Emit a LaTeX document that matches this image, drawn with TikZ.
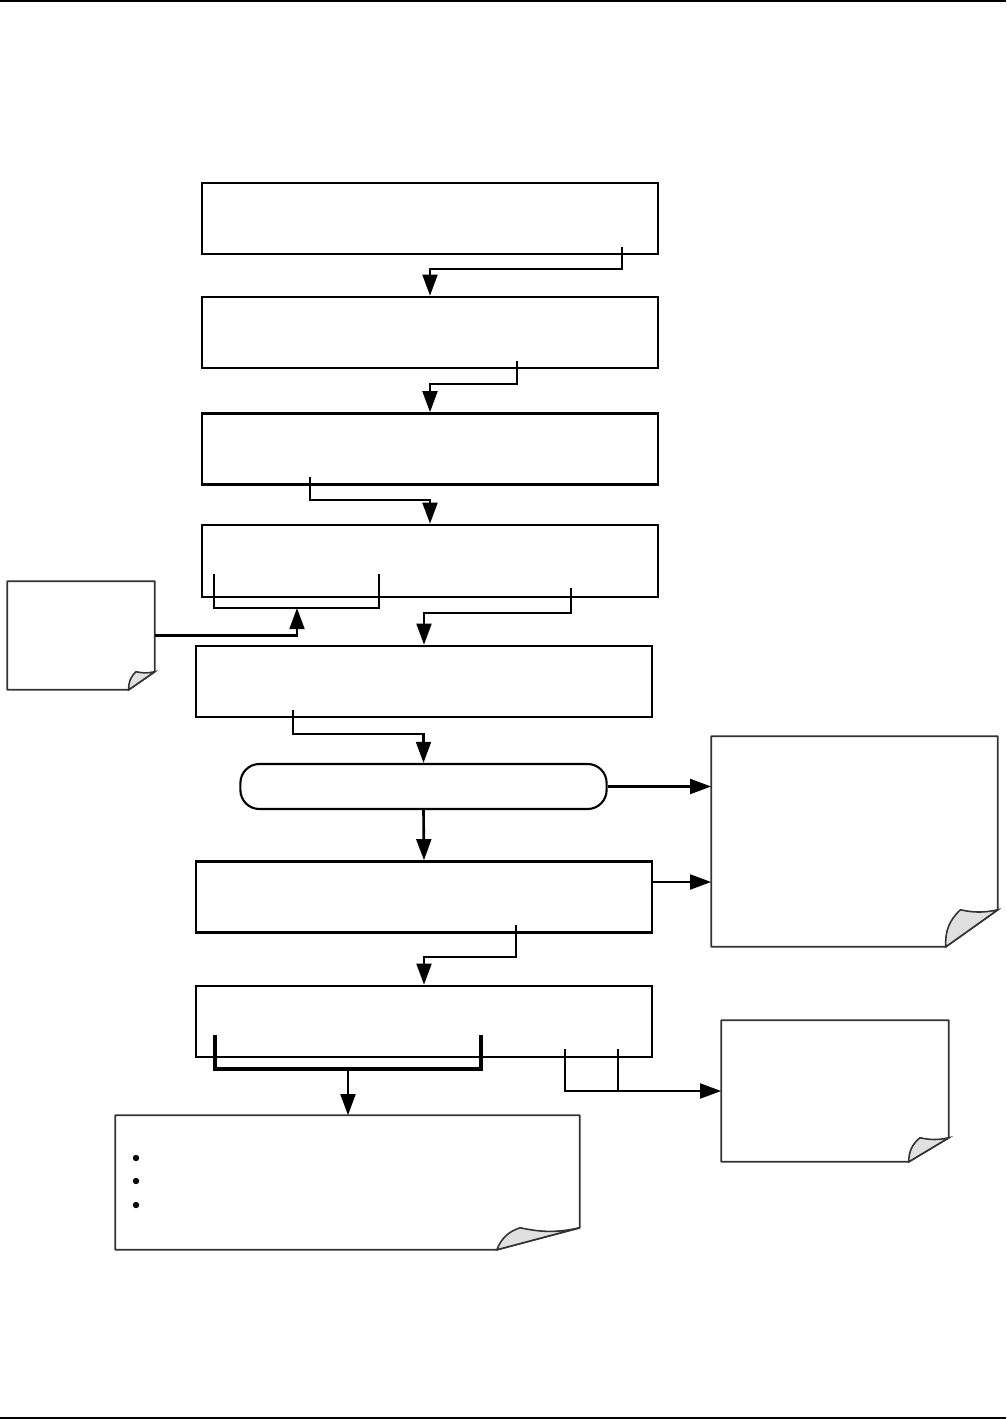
\documentclass[tikz,border=0pt]{standalone}
\usetikzlibrary{arrows.meta,calc}
\begin{document}
\begin{tikzpicture}[x=0.01cm, y=-0.01cm,
        stepbox/.style={draw, line width=0.7pt, inner sep=0pt, minimum width=4.56cm, minimum height=0.71cm},
        endbox/.style={draw, line width=0.6pt, rounded corners=0.19cm, inner sep=0pt, minimum width=3.66cm, minimum height=0.45cm},
        notebox/.style={inner sep=0pt},
        noteline/.style={draw=black!80, line width=0.5pt, line join=round},
        flap/.style={draw=black!80, fill=black!12, line width=0.45pt},
        flow/.style={line width=0.75pt, -{Triangle[length=6pt,width=4.2pt]}},
        tick/.style={line width=0.75pt}]
        \useasboundingbox (0, 0) rectangle (1006, 1419);
        \draw[line width=0.35pt] (0, 1) -- (1006, 1);
        \draw[line width=0.35pt] (0, 1418) -- (1006, 1418);

        % main column
        \node[stepbox] (setup) at (430, 218.5) {};
        \node[stepbox] (prime) at (430, 332.5) {};
        \node[stepbox] (zero) at (430, 449) {};
        \node[stepbox, minimum height=0.72cm] (select) at (430, 561) {};
        \node[stepbox] (span) at (424, 681.5) {};
        \node[endbox] (wait) at (423.5, 786.5) {};
        \node[stepbox] (check) at (424, 897) {};
        \node[stepbox] (finish) at (424, 1021.5) {};

        % notes
        \node[notebox, minimum width=1.46cm, minimum height=1.07cm] (noteL) at (81, 635.5) {};
        \node[notebox, minimum width=2.85cm, minimum height=2.09cm] (noteR) at (854.5, 841.5) {};
        \node[notebox, minimum width=2.26cm, minimum height=1.40cm] (noteS) at (835, 1091) {};
        \node[notebox, minimum width=4.63cm, minimum height=1.33cm] (noteB) at (347.5, 1182.5) {};
        \foreach \n/\fx/\fy in {noteL/26/18, noteR/52/37, noteS/40/24, noteB/83/22} {
            \coordinate (\n-a) at ($(\n.south east)+(-\fx, 0)$);
            \coordinate (\n-b) at ($(\n.south east)+(0, -\fy)$);
            \coordinate (\n-c) at ($(\n.south east)+(-0.72*\fx, -\fy)$);
            \draw[noteline] (\n.south west) -- (\n.north west) -- (\n.north east) -- (\n-b) -- (\n-a) -- cycle;
            \filldraw[flap] (\n-a) to[bend left=25] (\n-c) to[bend right=12] (\n-b) -- cycle;
        }
        \foreach \y in {1158, 1181, 1205}
            \fill (136, \y) circle (3.2);

        % keys inside the boxes
        \coordinate (k1) at (622, 247);
        \coordinate (k2) at (517, 361);
        \coordinate (k3) at (310, 477);
        \coordinate (k4) at (571, 588);
        \coordinate (k5) at (293, 710);
        \coordinate (k6) at (516, 925);
        \coordinate (k7) at (565, 1049);
        \coordinate (k8) at (618, 1049);
        \coordinate (b4a) at (214, 574);
        \coordinate (b4b) at (379, 574);
        \coordinate (b4m) at (297, 608);
        \coordinate (b7a) at (215, 1035);
        \coordinate (b7b) at (481, 1035);
        \coordinate (b7m) at (348, 1069);
        \coordinate (e6) at (651, 882);

        \draw[flow] (k1) -- ++(0, 22) -| (prime.north);
        \draw[flow] (k2) -- ++(0, 23) -| (zero.north);
        \draw[flow] (k3) -- ++(0, 23) -| (select.north);
        \draw[tick] (b4a) -- ++(0, 34) -| (b4b);
        \draw[flow] (noteL.east) -| (b4m);
        \draw[flow] (k4) -- ++(0, 25) -| (span.north);
        \draw[flow] (k5) -- ++(0, 24) -| (wait.north);
        \draw[flow] (wait.south) -- (check.north);
        \draw[flow] (wait.east) -- (wait.east -| noteR.west);
        \draw[flow] (e6) -- (e6 -| noteR.west);
        \draw[flow] (k6) -- ++(0, 32) -| (finish.north);
        \draw[tick, line width=1pt] (b7a) -- ++(0, 34) -| (b7b);
        \draw[flow] (b7m) -- (b7m |- noteB.north);
        \draw[flow] (k7) |- (noteS.west);
        \draw[tick] (k8) -- ++(0, 41);
\end{tikzpicture}
\end{document}
